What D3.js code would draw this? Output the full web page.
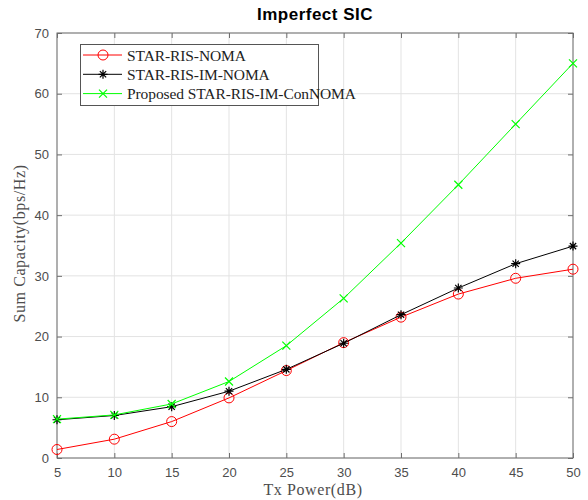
<!DOCTYPE html>
<html><head><meta charset="utf-8">
<script src="https://cdn.jsdelivr.net/npm/d3@7"></script>
<style>body{margin:0;background:#fff}</style>
</head><body>
<svg id="c" width="588" height="500"></svg>
<script>
const txPower = [5,10,15,20,25,30,35,40,45,50];
const starRisNoma = [1.4,3.1,6.0,9.9,14.4,19.0,23.2,27.0,29.6,31.1];
const starRisImNoma = [6.3,7.0,8.45,11.0,14.6,18.9,23.6,28.0,32.0,34.9];
const proposed = [6.4,7.1,8.9,12.6,18.5,26.3,35.4,45.0,55.0,65.0];
const xTicks = [5,10,15,20,25,30,35,40,45,50];
const yTicks = [0,10,20,30,40,50,60,70];
const seriesNames = ["STAR-RIS-NOMA","STAR-RIS-IM-NOMA","Proposed STAR-RIS-IM-ConNOMA"];

const svg = d3.select("#c");
const L=57, R=573, T=33, B=458;
const x = d3.scaleLinear().domain([5,50]).range([L,R]);
const y = d3.scaleLinear().domain([0,70]).range([B,T]);
const axisCol = "#6e6e6e", txtCol="#4d4d4d";
const serif = "'Liberation Serif','DejaVu Serif',serif";
const sans = "'Liberation Sans',Arial,sans-serif";

// grid
const g = svg.append("g");
g.selectAll(".gx").data(xTicks).join("line").attr("x1",d=>x(d)).attr("x2",d=>x(d)).attr("y1",T).attr("y2",B).attr("stroke","#e3e3e3").attr("stroke-width",1);
g.selectAll(".gy").data(yTicks).join("line").attr("y1",d=>y(d)).attr("y2",d=>y(d)).attr("x1",L).attr("x2",R).attr("stroke","#e3e3e3").attr("stroke-width",1);

// axes
function styleAxis(sel){
  sel.select(".domain").remove();
  sel.selectAll(".tick line").attr("stroke",axisCol);
  sel.selectAll(".tick text").attr("fill",txtCol).attr("font-family",sans).attr("font-size",13);
}
svg.append("g").attr("transform",`translate(0,${B})`).call(d3.axisBottom(x).tickValues(xTicks).tickSizeInner(-5).tickSizeOuter(0).tickPadding(10)).call(styleAxis);
svg.append("g").attr("transform",`translate(0,${T})`).call(d3.axisTop(x).tickValues(xTicks).tickSizeInner(-5).tickSizeOuter(0).tickFormat("")).call(styleAxis);
svg.append("g").attr("transform",`translate(${L},0)`).call(d3.axisLeft(y).tickValues(yTicks).tickSizeInner(-5).tickSizeOuter(0).tickPadding(8)).call(styleAxis);
svg.append("g").attr("transform",`translate(${R},0)`).call(d3.axisRight(y).tickValues(yTicks).tickSizeInner(-5).tickSizeOuter(0).tickFormat("")).call(styleAxis);
svg.append("rect").attr("x",L).attr("y",T).attr("width",R-L).attr("height",B-T).attr("fill","none").attr("stroke",axisCol).attr("stroke-width",1);

// markers
function drawMarker(sel, type, color){
  if(type==="o"){
    sel.append("circle").attr("r",5).attr("fill","none").attr("stroke",color).attr("stroke-width",1);
  } else if(type==="*"){
    const s=4.5;
    sel.append("path").attr("d",`M${-s},0L${s},0M0,${-s}L0,${s}M${-s*0.7},${-s*0.7}L${s*0.7},${s*0.7}M${-s*0.7},${s*0.7}L${s*0.7},${-s*0.7}`).attr("stroke",color).attr("stroke-width",1.2);
  } else {
    const s=4;
    sel.append("path").attr("d",`M${-s},${-s}L${s},${s}M${-s},${s}L${s},${-s}`).attr("stroke",color).attr("stroke-width",1.2);
  }
}
const series = [
  {name:seriesNames[0], vals:starRisNoma, color:"#ff0000", m:"o"},
  {name:seriesNames[1], vals:starRisImNoma, color:"#000000", m:"*"},
  {name:seriesNames[2], vals:proposed, color:"#00ff00", m:"x"}
];
const line = d3.line().x((d,i)=>x(txPower[i])).y(d=>y(d));
series.forEach(s=>{
  svg.append("path").datum(s.vals).attr("d",line).attr("fill","none").attr("stroke",s.color).attr("stroke-width",1);
  s.vals.forEach((v,i)=>{
    const mg = svg.append("g").attr("transform",`translate(${x(txPower[i])},${y(v)})`);
    drawMarker(mg, s.m, s.color);
  });
});

// legend
const lg = svg.append("g");
lg.append("rect").attr("x",80.5).attr("y",44.5).attr("width",238).attr("height",61).attr("fill","#fff").attr("stroke","#555").attr("stroke-width",1);
series.forEach((s,i)=>{
  const yy = 55 + i*19.3;
  lg.append("line").attr("x1",83).attr("x2",122).attr("y1",yy).attr("y2",yy).attr("stroke",s.color).attr("stroke-width",1);
  drawMarker(lg.append("g").attr("transform",`translate(103,${yy})`), s.m, s.color);
  lg.append("text").attr("x",127).attr("y",yy+5.5).attr("font-family",serif).attr("font-size",15.5).attr("letter-spacing",-0.1).attr("fill","#222").text(s.name);
});

// labels
svg.append("text").attr("x",315).attr("y",20).attr("text-anchor","middle").attr("font-family",sans).attr("font-weight","bold").attr("font-size",17).attr("letter-spacing",0.5).attr("fill","#000").text("Imperfect SIC");
svg.append("text").attr("x",313).attr("y",495).attr("text-anchor","middle").attr("font-family",serif).attr("font-size",16).attr("letter-spacing",0.6).attr("fill",txtCol).text("Tx Power(dB)");
svg.append("text").attr("transform",`translate(25,${(T+B)/2 - 2}) rotate(-90)`).attr("text-anchor","middle").attr("font-family",serif).attr("font-size",16).attr("letter-spacing",0.6).attr("fill",txtCol).text("Sum Capacity(bps/Hz)");
</script>
</body></html>
